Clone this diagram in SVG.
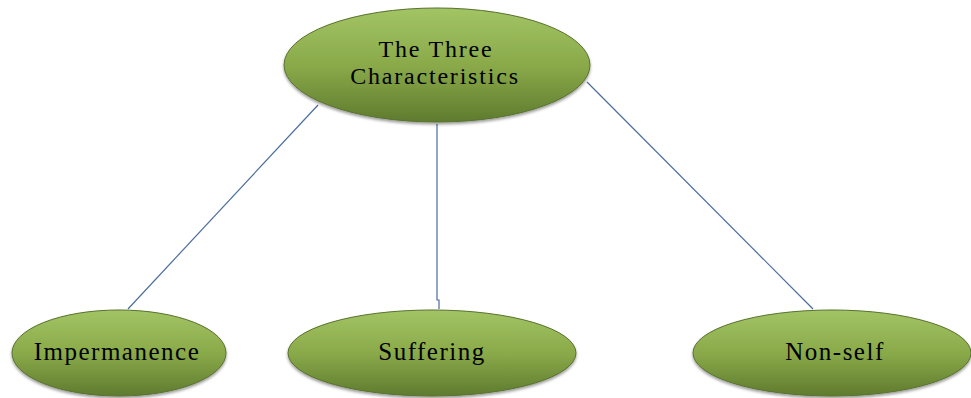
<svg xmlns="http://www.w3.org/2000/svg" width="971" height="398" viewBox="0 0 971 398">
<defs>
<linearGradient id="g" x1="0" y1="0" x2="0" y2="1">
<stop offset="0" stop-color="#a3c464"/>
<stop offset="0.5" stop-color="#8aaa4a"/>
<stop offset="1" stop-color="#5f7b2e"/>
</linearGradient>
<filter id="sh" x="-10%" y="-10%" width="120%" height="130%">
<feGaussianBlur in="SourceAlpha" stdDeviation="1.5"/>
<feOffset dx="0" dy="2" result="b"/>
<feComponentTransfer><feFuncA type="linear" slope="0.4"/></feComponentTransfer>
<feMerge><feMergeNode/><feMergeNode in="SourceGraphic"/></feMerge>
</filter>
</defs>
<style>
.n{fill:url(#g);stroke:#5a7230;stroke-width:1;filter:url(#sh)}
.t{font-family:"Liberation Serif","Times New Roman",serif;font-size:25px;letter-spacing:1.5px;fill:#000;text-anchor:middle}
.t2{font-size:24px;letter-spacing:1.8px}
.c{stroke:#4a6d9c;stroke-width:1.2;fill:none}
</style>
<rect width="971" height="398" fill="#fff"/>
<g id="connectors">
<line class="c" x1="318" y1="105" x2="128" y2="309"/>
<polyline class="c" points="437,124 437,300 439,300 439,309"/>
<line class="c" x1="587" y1="82" x2="813" y2="309"/>
</g>
<g id="root">
<ellipse class="n" cx="437" cy="65" rx="153" ry="57"/>
<text class="t t2" x="436" y="57">The Three</text>
<text class="t t2" x="435" y="84">Characteristics</text>
</g>
<g id="impermanence">
<ellipse class="n" cx="119" cy="353" rx="107" ry="43"/>
<text class="t" x="117" y="360">Impermanence</text>
</g>
<g id="suffering">
<ellipse class="n" cx="432" cy="353" rx="144" ry="43"/>
<text class="t" x="432" y="360">Suffering</text>
</g>
<g id="nonself">
<ellipse class="n" cx="832" cy="353" rx="139" ry="43"/>
<text class="t" x="835" y="360">Non-self</text>
</g>
</svg>
